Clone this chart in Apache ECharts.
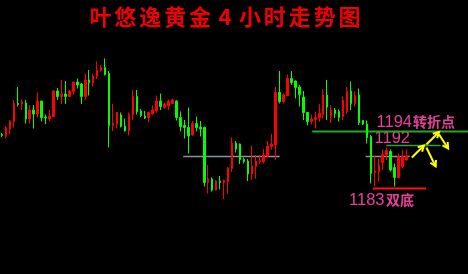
<!DOCTYPE html>
<html><head><meta charset="utf-8">
<script src="https://cdn.jsdelivr.net/npm/echarts@6/dist/echarts.min.js"></script>
<style>html,body{margin:0;padding:0;background:#000}#c{width:468px;height:274px}</style>
</head><body><div id="c"></div>
<script>
// 4-hour gold candles (open, close, low, high), oldest first
const opens = [1193.5,1193.2,1194.6,1196.1,1199.7,1199.6,1199.8,1196.6,1198.4,1197.6,1200.2,1197.0,1196.6,1197.1,1202.2,1201.1,1201.6,1201.1,1202.1,1204.0,1203.6,1201.1,1204.4,1203.9,1205.1,1206.3,1206.9,1205.7,1195.3,1195.6,1197.4,1195.2,1194.2,1197.5,1201.1,1198.2,1197.2,1196.9,1197.7,1198.3,1200.2,1198.9,1199.2,1199.7,1200.2,1196.9,1195.3,1194.9,1193.4,1195.7,1195.0,1194.9,1183.9,1184.6,1182.4,1184.2,1183.9,1184.1,1186.7,1191.8,1191.6,1188.5,1188.2,1185.6,1187.1,1188.1,1188.1,1189.2,1191.1,1191.4,1201.9,1200.1,1201.3,1204.7,1204.2,1203.0,1201.0,1197.9,1196.1,1196.5,1196.8,1197.5,1201.4,1197.1,1198.4,1198.1,1197.1,1198.1,1202.2,1199.7,1201.4,1196.3,1195.6,1193.1,1185.9,1186.1,1187.9,1189.4,1190.1,1186.9,1184.9,1187.1,1188.4];
const closes = [1193.3,1194.9,1196.2,1199.7,1199.5,1200.0,1196.6,1198.4,1197.6,1200.2,1196.9,1196.8,1197.2,1202.2,1201.1,1201.6,1201.1,1202.2,1204.0,1203.4,1201.1,1204.4,1203.9,1205.2,1206.4,1206.9,1205.5,1195.3,1195.8,1197.9,1195.1,1194.2,1197.5,1201.1,1198.1,1197.3,1196.8,1197.9,1198.4,1200.2,1199.1,1199.6,1200.1,1200.4,1196.9,1195.1,1194.9,1193.2,1195.7,1194.9,1194.6,1183.9,1184.6,1182.4,1184.2,1183.9,1184.3,1186.8,1191.8,1190.6,1188.5,1188.1,1185.6,1187.2,1188.2,1188.3,1189.4,1191.2,1191.6,1201.9,1200.1,1201.4,1204.7,1203.9,1202.9,1201.5,1197.9,1196.1,1196.6,1196.9,1197.8,1201.4,1199.0,1198.4,1197.7,1196.9,1200.3,1202.1,1199.7,1201.2,1195.9,1195.6,1192.9,1185.7,1186.2,1187.4,1189.5,1190.3,1186.4,1184.9,1189.1,1189.1,1189.2];
const lows = [1193.0,1192.7,1193.6,1194.9,1199.1,1198.4,1195.7,1195.7,1194.7,1196.9,1196.1,1195.6,1196.2,1197.0,1200.4,1199.6,1199.6,1201.0,1201.5,1202.7,1199.6,1200.4,1201.3,1203.1,1204.6,1206.1,1205.3,1190.9,1194.2,1194.7,1194.9,1194.1,1193.3,1196.4,1197.5,1197.0,1196.6,1195.9,1197.4,1197.9,1198.4,1198.7,1198.4,1199.6,1196.3,1194.1,1192.7,1189.7,1193.3,1194.1,1193.1,1183.1,1181.7,1182.1,1182.3,1182.5,1180.6,1181.6,1186.0,1189.9,1187.6,1187.7,1184.2,1184.4,1184.7,1187.6,1187.7,1188.9,1190.5,1188.4,1199.7,1199.7,1201.2,1203.4,1200.7,1199.1,1196.4,1195.3,1195.5,1194.7,1196.1,1196.7,1196.4,1195.8,1196.8,1196.1,1196.4,1197.7,1198.4,1199.1,1195.4,1195.4,1191.7,1183.7,1183.1,1184.1,1186.4,1188.4,1186.1,1183.1,1184.7,1186.7,1188.3];
const highs = [1193.8,1195.2,1196.4,1200.4,1203.0,1200.5,1200.4,1199.4,1199.4,1201.9,1200.2,1197.5,1198.4,1202.4,1202.8,1204.4,1204.2,1202.4,1204.1,1204.7,1203.8,1205.7,1206.4,1205.7,1208.1,1207.4,1208.7,1206.2,1199.6,1198.0,1197.9,1196.7,1197.9,1202.4,1202.4,1198.6,1198.2,1198.1,1199.3,1201.3,1201.7,1199.9,1200.5,1200.7,1200.3,1198.1,1196.4,1198.9,1196.2,1197.1,1196.2,1195.1,1187.4,1184.9,1184.4,1185.2,1184.5,1187.0,1192.9,1192.2,1191.7,1188.9,1188.6,1191.2,1189.4,1189.4,1190.6,1192.2,1193.6,1203.0,1206.2,1201.7,1205.5,1206.2,1204.3,1203.4,1202.2,1198.0,1197.5,1198.1,1199.6,1202.5,1204.4,1199.4,1198.8,1198.5,1201.1,1203.0,1204.1,1202.1,1202.7,1196.4,1196.3,1193.4,1189.2,1188.7,1190.5,1190.9,1190.5,1187.7,1189.7,1190.4,1190.5];

// Horizontal reference levels: [price, fromBar, toBar]
const levelGreen = [1194.1, 77.2, 116.5];
const level1192 = [1191.3, 95.9, 109.6];
const level1183 = [1182.7, 92.5, 105.9];
const levelGrayA = [1189.1, 44.7, 69.0];
const levelGrayB = [1189.1, 90.7, 101.8];

// Arrows: [fromBar, fromPrice, toBar, toPrice]
const arrows = [
  [102.35, 1188.9, 105.4, 1191.3],
  [106.0, 1191.5, 109.2, 1194.0],
  [109.2, 1193.5, 111.5, 1190.7],
  [106.0, 1190.9, 108.35, 1187.1]
];

const title = '叶悠逸黄金4小时走势图';
const TOTAL_SLOTS = 118;

const categories = [];
for (let i = 0; i < TOTAL_SLOTS; i++) categories.push(String(i - 1));
const candleData = opens.map((o, i) => [o, closes[i], lows[i], highs[i]]);

function seg(level, color, width) {
  return {
    type: 'line', xAxisIndex: 1, yAxisIndex: 0, symbol: 'none', silent: true,
    clip: false, z: 1,
    lineStyle: { color: color, width: width },
    data: [[level[1], level[0]], [level[2], level[0]]]
  };
}

const chart = echarts.init(document.getElementById('c'), null, { renderer: 'canvas' });
chart.setOption({
  animation: false,
  backgroundColor: '#000000',
  grid: { left: -2.7, top: 2, width: TOTAL_SLOTS * 4, height: 250, containLabel: false },
  xAxis: [
    { type: 'category', data: categories, show: false, boundaryGap: true },
    { type: 'value', min: -1.5, max: TOTAL_SLOTS - 1.5, show: false }
  ],
  yAxis: [{ type: 'value', min: 1170, max: 1220, show: false }],
  series: [
    seg(levelGrayA, '#8a93a6', 1.5),
    seg(levelGrayB, '#8a93a6', 1.5),
    {
      type: 'candlestick', xAxisIndex: 0, yAxisIndex: 0, barWidth: 2, z: 2,
      itemStyle: { color: '#ff0000', color0: '#00ff00', borderColor: '#ff0000', borderColor0: '#00ff00', borderWidth: 1 },
      data: candleData
    },
    seg(levelGreen, '#22a822', 2),
    seg(level1192, '#22a822', 1.5),
    seg(level1183, '#ff1010', 2)
  ]
});

const pink = '#e8409a';
const g = [];
// title, spread letter by letter across its span
const chars = Array.from(title);
const tLeft = 88, tRight = 362, step = (tRight - tLeft) / chars.length;
chars.forEach((ch, i) => {
  g.push({ type: 'text', x: tLeft + step * (i + 0.5), y: 17, style: { text: ch, fill: '#f00000', font: 'bold 22px "Noto Sans CJK SC"', align: 'center', verticalAlign: 'middle' } });
});
g.push({ type: 'text', x: 376.5, y: 122.5, style: { text: '1194', fill: pink, font: '16.5px "Liberation Sans"', verticalAlign: 'middle' } });
g.push({ type: 'text', x: 413, y: 122, style: { text: '转折点', fill: pink, font: 'bold 14px "Noto Sans CJK SC"', verticalAlign: 'middle' } });
g.push({ type: 'text', x: 374.5, y: 138.8, style: { text: '1192', fill: pink, font: '16.5px "Liberation Sans"', verticalAlign: 'middle' } });
g.push({ type: 'text', x: 349, y: 200.5, style: { text: '1183', fill: pink, font: '16.5px "Liberation Sans"', verticalAlign: 'middle' } });
g.push({ type: 'text', x: 386, y: 200, style: { text: '双底', fill: pink, font: 'bold 14px "Noto Sans CJK SC"', verticalAlign: 'middle' } });

arrows.forEach(a => {
  const p0 = chart.convertToPixel({ xAxisIndex: 1, yAxisIndex: 0 }, [a[0], a[1]]);
  const p1 = chart.convertToPixel({ xAxisIndex: 1, yAxisIndex: 0 }, [a[2], a[3]]);
  const ang = Math.atan2(p1[1] - p0[1], p1[0] - p0[0]);
  const L = 6.5, spread = 0.5;
  const h1 = [p1[0] - L * Math.cos(ang - spread), p1[1] - L * Math.sin(ang - spread)];
  const h2 = [p1[0] - L * Math.cos(ang + spread), p1[1] - L * Math.sin(ang + spread)];
  g.push({ type: 'polyline', shape: { points: [p0, p1] }, style: { stroke: '#ffff00', lineWidth: 2 }, z: 10 });
  g.push({ type: 'polyline', shape: { points: [h1, p1, h2] }, style: { stroke: '#ffff00', lineWidth: 2, fill: null }, z: 10 });
});
chart.setOption({ graphic: g });
</script>
</body></html>
